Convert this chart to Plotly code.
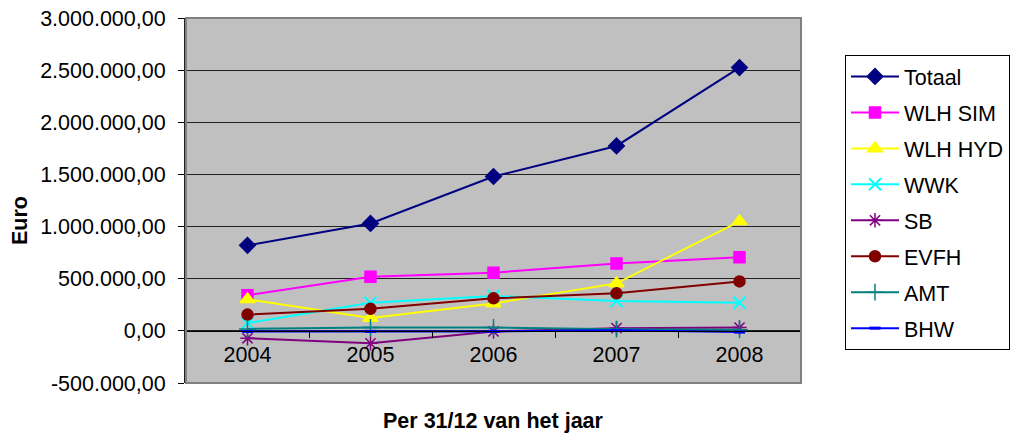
import plotly.graph_objects as go

years = ["2004", "2005", "2006", "2007", "2008"]
totaal = [820000, 1030000, 1480000, 1773000, 2525000]
wlh_sim = [341000, 519000, 558000, 646000, 705000]
wlh_hyd = [302000, 123000, 263000, 455000, 1050000]
wwk = [75000, 269000, 334000, 286000, 269000]
sb = [-71000, -120000, -6000, 26000, 32000]
evfh = [156000, 211000, 312000, 360000, 474000]
amt = [19000, 32000, 32000, 16000, 10000]
bhw = [-5000, -5000, -5000, 5000, -12000]

y_tick_vals = [-500000, 0, 500000, 1000000, 1500000, 2000000, 2500000, 3000000]
y_tick_text = ["-500.000,00", "0,00", "500.000,00", "1.000.000,00", "1.500.000,00",
               "2.000.000,00", "2.500.000,00", "3.000.000,00"]

series = [
    ("Totaal", totaal, "#000080", "diamond", 12, 1.5),
    ("WLH SIM", wlh_sim, "#FF00FF", "square", 11, 1.5),
    ("WLH HYD", wlh_hyd, "#FFFF00", "triangle-up", 13, 1.5),
    ("WWK", wwk, "#00FFFF", "x-thin-open", 12, 2),
    ("SB", sb, "#800080", "asterisk-open", 12, 1.5),
    ("EVFH", evfh, "#800000", "circle", 11, 1.5),
    ("AMT", amt, "#008080", "cross-thin-open", 12, 1.5),
    ("BHW", bhw, "#0000FF", "line-ew-open", 8, 3),
]

FONT = "Liberation Sans, Arial, sans-serif"
FS = 21.5

fig = go.Figure()
for name, vals, color, sym, size, lw in series:
    fig.add_trace(go.Scatter(
        x=years, y=vals, name=name, mode="lines+markers",
        legendgroup=name,
        line=dict(color=color, width=2),
        marker=dict(symbol=sym, size=size, color=color,
                    line=dict(color=color, width=lw)),
    ))

PW = 1012 - 186 - 211

fig.update_layout(
    width=1012, height=439,
    margin=dict(l=186, r=211, t=18, b=56, autoexpand=False),
    paper_bgcolor="white",
    plot_bgcolor="#C0C0C0",
    font=dict(family=FONT, size=FS, color="black"),
    showlegend=True,
    legend=dict(
        xref="container", yref="container",
        x=845 / 1012, y=1 - 55 / 439, xanchor="left", yanchor="top",
        bordercolor="black", borderwidth=1, bgcolor="white",
        font=dict(family=FONT, size=FS, color="black"),
        tracegroupgap=5, itemwidth=48, maxheight=420,
    ),
    xaxis=dict(
        type="category", range=[-0.5, 4.5],
        anchor="free", position=1/7,
        showline=True, linecolor="black", linewidth=1,
        ticks="outside", ticklen=6, tickcolor="black", tickson="boundaries",
        showgrid=False, zeroline=False, ticklabelstandoff=4,
        tickfont=dict(family=FONT, size=FS),
    ),
    yaxis=dict(
        range=[-500000, 3000000], tickmode="array",
        tickvals=y_tick_vals, ticktext=y_tick_text,
        showline=True, linecolor="#222", linewidth=2,
        ticks="outside", ticklen=6, tickcolor="black",
        showgrid=True, gridcolor="#222", gridwidth=1,
        zeroline=False, ticklabelstandoff=8,
        tickfont=dict(family=FONT, size=FS),
    ),
    shapes=[dict(type="rect", xref="paper", yref="paper", x0=0, x1=1, y0=0, y1=1,
                 line=dict(color="#808080", width=2), layer="above")],
    annotations=[
        dict(text="<b>Per 31/12 van het jaar</b>", xref="paper", yref="paper",
             x=0.5, y=-0.104, yanchor="middle", showarrow=False,
             font=dict(family=FONT, size=FS)),
        dict(text="<b>Euro</b>", xref="paper", yref="paper", textangle=-90,
             x=(20 - 186) / PW, y=(383 - 221) / 365, xanchor="center", yanchor="middle",
             showarrow=False, font=dict(family=FONT, size=FS)),
    ],
)

fig.write_html("out.html", config={"displayModeBar": False},
               post_script="document.body.style.margin='0';document.body.style.overflow='hidden';")
